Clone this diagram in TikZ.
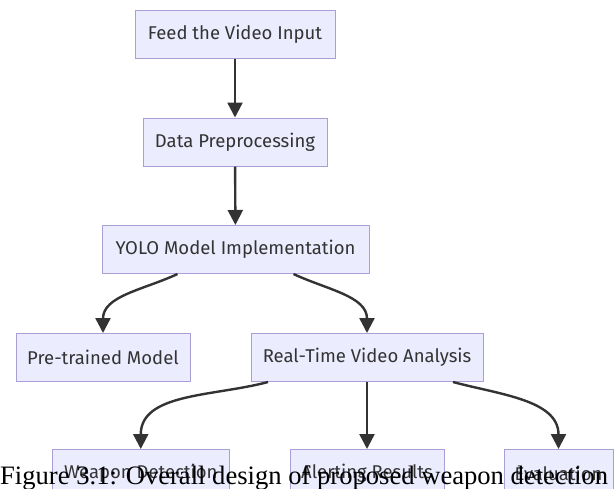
\documentclass[tikz,border=0pt]{standalone}
\usepackage{fontspec}
\setsansfont{Fira Sans}
\newfontfamily\captionfont{Liberation Serif}
\usetikzlibrary{arrows.meta}
\definecolor{boxfill}{HTML}{ECECFF}
\definecolor{boxline}{HTML}{A99ED6}
\definecolor{flowline}{HTML}{333333}
\begin{document}
\begin{tikzpicture}[x=1pt,y=-1pt,
    box node/.style={rectangle,draw=boxline,fill=boxfill,line width=1pt,minimum height=48pt,
        inner sep=0pt,text=flowline,font=\sffamily\fontsize{18.5}{22}\selectfont},
    flow/.style={draw=flowline,line width=2.4pt,-{Triangle[length=15pt,width=15pt]}}]
        \clip (0,0) rectangle (616,488);
        \fill[white] (0,0) rectangle (616,488);

        \node[box node,minimum width=200pt] at (235, 34) (feed) {Feed the Video Input};
        \node[box node,minimum width=184pt] at (235, 142) (prep) {Data Preprocessing};
        \node[box node,minimum width=267pt] at (235.5, 249.5) (yolo) {YOLO Model Implementation};
        \node[box node,minimum width=174pt] at (103, 357.5) (pretrained) {Pre-trained Model};
        \node[box node,minimum width=232pt] at (367, 357.5) (realtime) {Real-Time Video Analysis};
        \node[box node,minimum width=177pt] at (140.75, 473.5) (weapon) {Weapon Detection};
        \node[box node,minimum width=154pt] at (367, 473.5) (alerting) {Alerting Results};
        \node[box node,minimum width=109pt] at (558.5, 473.5) (evaluation) {Evaluation};

        \path[every edge/.style={flow}]
            (feed) edge (prep)
            (prep) edge (yolo)
            ([xshift=-58pt]yolo.south) edge[out=-155,in=90] (pretrained.north)
            ([xshift=58pt]yolo.south) edge[out=-25,in=90] (realtime.north)
            ([xshift=-99pt]realtime.south) edge[out=-165,in=90] (weapon.north)
            (realtime) edge (alerting)
            ([xshift=86pt]realtime.south) edge[out=-15,in=90] (evaluation.north)
            ;

        \node[anchor=base west,inner sep=0pt,font=\captionfont\fontsize{26.6}{32}\selectfont] at (0, 484) (caption)
            {Figure 3.1: Overall design of proposed weapon detection};
    \end{tikzpicture}
\end{document}
